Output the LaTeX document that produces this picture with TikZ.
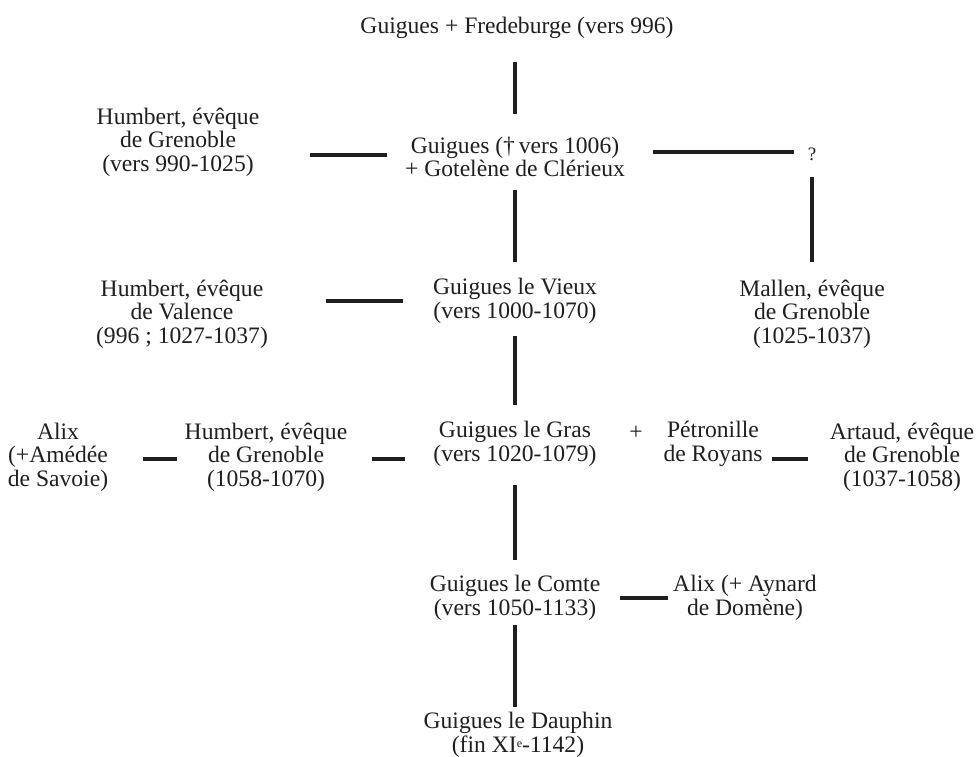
\documentclass[tikz,border=0pt]{standalone}
\usepackage{fontspec}
\setmainfont{Liberation Serif}
\begin{document}
\begin{tikzpicture}[x=1pt,y=-1pt,
  person/.style={font=\fontsize{23.6}{23.5}\selectfont, align=center, inner sep=0pt, text=black!88},
  link/.style={line width=3.3pt, draw=black!88}]
\fill[white] (0,0) rectangle (980,757);
\useasboundingbox (0,0) rectangle (980,757);
% nodes
\node[person] (top) at (517,28) {Guigues + Fredeburge (vers 996)};
\node[person] (g1) at (515,157) {Guigues (†\,vers 1006)\\+ Gotelène de Clérieux};
\node[person] (hg) at (178,142) {Humbert, évêque\\de Grenoble\\(vers 990-1025)};
\node[person] (q) at (812,154) {\fontsize{19}{20}\selectfont ?};
\node[person] (mallen) at (812,314) {Mallen, évêque\\de Grenoble\\(1025-1037)};
\node[person] (vieux) at (515,301) {Guigues le Vieux\\(vers 1000-1070)};
\node[person] (hv) at (182,314) {Humbert, évêque\\de Valence\\(996 ; 1027-1037)};
\node[person] (alix) at (58,457) {Alix\\(+Amédée\\de Savoie)};
\node[person] (h2) at (266,457) {Humbert, évêque\\de Grenoble\\(1058-1070)};
\node[person] (gras) at (515,444) {Guigues le Gras\\(vers 1020-1079)};
\node[person] (plus) at (636,433) {+};
\node[person] (pet) at (713,444) {Pétronille\\de Royans};
\node[person] (art) at (902,457) {Artaud, évêque\\de Grenoble\\(1037-1058)};
\node[person] (comte) at (515,598) {Guigues le Comte\\(vers 1050-1133)};
\node[person] (alix2) at (745,598) {Alix (+ Aynard\\de Domène)};
\node[person] (dauph) at (518,735) {Guigues le Dauphin\\(fin XI\raisebox{5pt}{\fontsize{12}{12}\selectfont e}-1142)};
% connectors
\draw[link, shorten <=34pt, shorten >=43pt] (top.center -| g1.center) -- (g1.center);
\draw[link, shorten <=128pt, shorten >=132pt] ([yshift=2pt]g1.center) -- ([yshift=2pt]g1.center -| hg.center);
\draw[link, shorten <=138pt, shorten >=18pt] ([yshift=2pt]q.center -| g1.center) -- ([yshift=2pt]q.center);
\draw[link, shorten <=23pt, shorten >=52pt] (q.center) -- (mallen.center);
\draw[link, shorten <=33pt, shorten >=39pt] (g1.center) -- (vieux.center);
\draw[link, shorten <=112pt, shorten >=144pt] (vieux.center) -- (vieux.center -| hv.center);
\draw[link, shorten <=35pt, shorten >=39pt] (vieux.center) -- (gras.center);
\draw[link, shorten <=85pt, shorten >=89pt] ([yshift=-2pt]alix.center) -- ([yshift=-2pt]h2.center);
\draw[link, shorten <=106pt, shorten >=110pt] ([yshift=-2pt]h2.center) -- ([yshift=-2pt]h2.center -| gras.center);
\draw[link, shorten <=59pt, shorten >=94pt] ([yshift=-2pt]art.center -| pet.center) -- ([yshift=-2pt]art.center);
\draw[link, shorten <=41pt, shorten >=38pt] (gras.center) -- (comte.center);
\draw[link, shorten <=105pt, shorten >=77pt] (comte.center) -- (comte.center -| alix2.center);
\draw[link, shorten <=27pt, shorten >=28pt] (comte.center) -- (comte.center |- dauph.center);
\end{tikzpicture}
\end{document}
